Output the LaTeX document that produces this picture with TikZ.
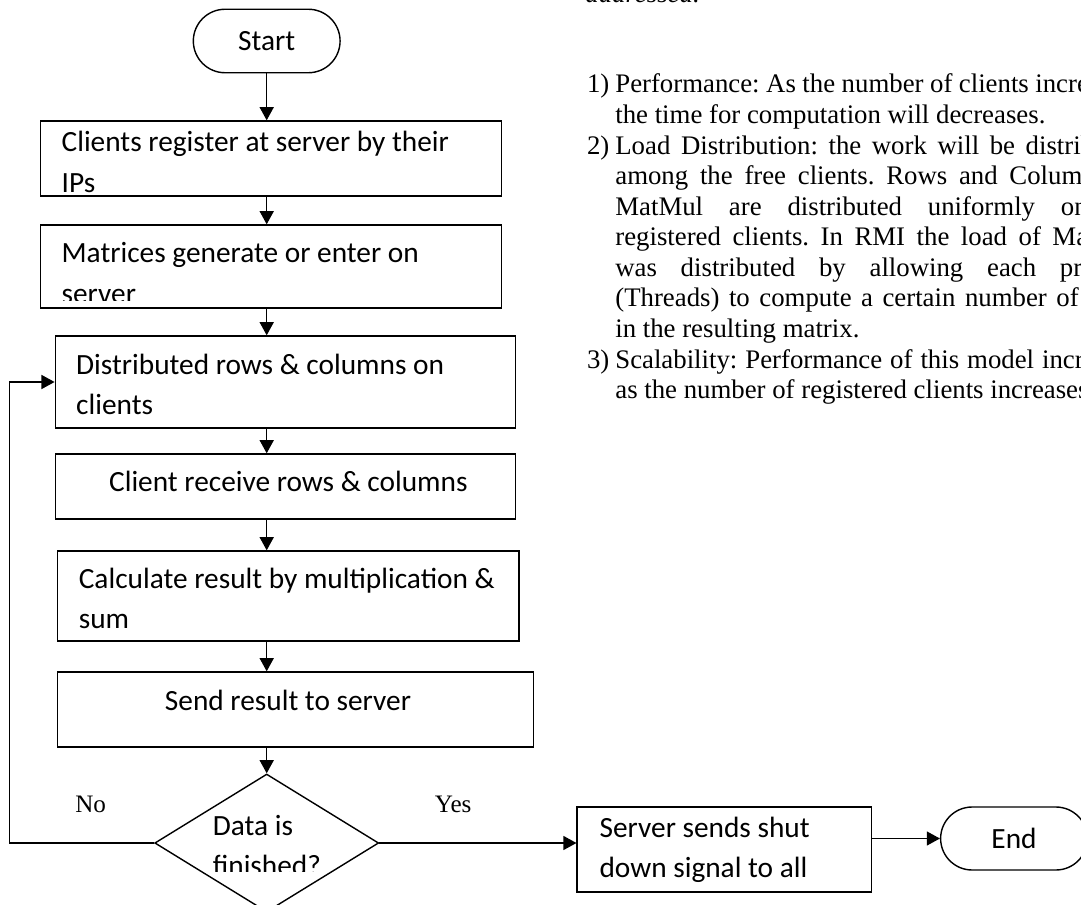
\documentclass[tikz,border=0pt]{standalone}
\usepackage{fontspec}
\setmainfont{Liberation Serif}
\newfontfamily\calibri{Carlito}
\usetikzlibrary{shapes.geometric,shapes.misc,arrows.meta}
\tikzstyle{arrow} = [line width=0.8pt,-{Triangle[length=7.5pt,width=8pt]}]
\tikzstyle{process} = [rectangle, draw, line width=0.8pt, inner sep=0pt, minimum width=9.21cm]
\tikzstyle{terminal} = [rounded rectangle, draw, line width=0.8pt, minimum width=3.17cm, minimum height=1.27cm, font=\calibri\fontsize{16.7}{22.8}\selectfont]
\tikzstyle{decision} = [diamond, draw, line width=0.8pt, inner sep=0pt, minimum width=4.48cm, minimum height=2.76cm]
\tikzstyle{boxtext} = [anchor=base west, inner sep=0pt, font=\calibri\fontsize{16.7}{22.8}\selectfont]
\tikzstyle{serif} = [anchor=base west, inner sep=0pt, font=\fontsize{15.25}{17.4}\selectfont]

\newcommand{\twolines}[2]{\vtop{\hbox{#1}\hbox{#2}}}
\newlength{\colw}\setlength{\colw}{10.5cm}
\newcommand{\jline}[1]{\hbox{\makebox[\colw][s]{#1}}}
\newcommand{\itemno}[1]{\llap{\makebox[0.566cm][l]{#1}}}
\frenchspacing

\begin{document}
\begin{tikzpicture}[x=0.02cm, y=-0.02cm]
  \useasboundingbox (0,0) rectangle (1081,905);
  \clip (0,0) rectangle (1081,905);

  % Flowchart boxes
  \node[terminal] (start) at (266.7,41) {Start};
  \node[process, minimum width=9.22cm, minimum height=1.5cm] (reg) at (271.2,158.5) {};
  \node[process, minimum width=9.22cm, minimum height=1.66cm] (mat) at (271.2,266.5) {};
  \node[process, minimum height=1.84cm] (dist) at (285.5,382) {};
  \node[process, minimum height=1.3cm] (recv) at (285.5,486.5) {};
  \node[process, minimum width=9.23cm, minimum height=1.8cm] (calc) at (288.2,596) {};
  \node[process, minimum width=9.52cm, minimum height=1.5cm] (send) at (295.6,709.5) {};
  \node[decision] (data) at (266.7,843) {};
  \node[process, minimum width=5.89cm, minimum height=1.7cm] (srv) at (724.4,849.5) {};
  \node[terminal, minimum height=1.26cm] (stop) at (1014,838.5) {End};

  % Box texts (clipped like the original)
  \begin{scope}
    \clip (reg.north west) rectangle ([yshift=0.08cm]reg.south east);
    \node[boxtext] (regtext) at (61.3,152) {\twolines{Clients register at server by their}{IPs}};
  \end{scope}
  \begin{scope}
    \clip (mat.north west) rectangle ([yshift=0.16cm]mat.south east);
    \node[boxtext] (mattext) at (61.3,263) {\twolines{Matrices generate or enter on}{server}};
  \end{scope}
  \node[boxtext] (disttext) at (75.8,374) {\twolines{Distributed rows \& columns on}{clients}};
  \node[boxtext] (recvtext) at (108.8,491) {Client receive rows \& columns};
  \begin{scope}
    \clip (calc.north west) rectangle ([yshift=0.22cm]calc.south east);
    \node[boxtext] (calctext) at (78.5,588) {\twolines{Calculate result by multiplication \&}{sum}};
  \end{scope}
  \node[boxtext] (sendtext) at (164.6,710) {Send result to server};
  \begin{scope}
    \clip (data.west |- data.north) rectangle ([yshift=-0.56cm]data.east);
    \node[boxtext] (datatext) at (212.5,835) {\twolines{Data is}{finished?}};
  \end{scope}
  \node[boxtext] (srvtext) at (599.2,837) {\twolines{Server sends shut}{down signal to all}};

  % Connectors
  \draw[arrow] (start.south) -- (reg.north -| start.south);
  \draw[arrow] (reg.south -| start.south) -- (mat.north -| start.south);
  \draw[arrow] (mat.south -| start.south) -- (dist.north -| start.south);
  \draw[arrow] (dist.south -| start.south) -- (recv.north -| start.south);
  \draw[arrow] (recv.south -| start.south) -- (calc.north -| start.south);
  \draw[arrow] (calc.south -| start.south) -- (send.north -| start.south);
  \draw[arrow] (send.south -| start.south) -- (data.north);
  \coordinate (back) at (9.3,843);
  \draw[arrow] (data.west) -- (back) |- (dist.west);
  \draw[arrow] (data.east) -- (data.east -| srv.west);
  \draw[arrow] (srv.east |- stop.west) -- (stop.west);
  \node[serif, font=\fontsize{14.3}{16}\selectfont] (no) at (75,812) {No};
  \node[serif, font=\fontsize{14.3}{16}\selectfont] (yes) at (434.6,812) {Yes};

  % Page text at the right
  \node[serif, font=\itshape\fontsize{15.25}{17.4}\selectfont] (addr) at (585,3) {addressed.};
  \node[serif] (items) at (615,93) {\vtop{\baselineskip=17.4pt
    \hbox{\itemno{1)}\makebox[\colw][s]{Performance: As the number of clients increases,}}
    \hbox{the time for computation will decreases.}
    \hbox{\itemno{2)}\makebox[\colw][s]{Load Distribution: the work will be distributed}}
    \jline{among the free clients. Rows and Columns of}
    \jline{MatMul are distributed uniformly on all}
    \jline{registered clients. In RMI the load of MatMul}
    \jline{was distributed by allowing each process}
    \jline{(Threads) to compute a certain number of rows}
    \hbox{in the resulting matrix.}
    \hbox{\itemno{3)}\makebox[\colw][s]{Scalability: Performance of this model increases}}
    \hbox{as the number of registered clients increases.}}};
\end{tikzpicture}
\end{document}
